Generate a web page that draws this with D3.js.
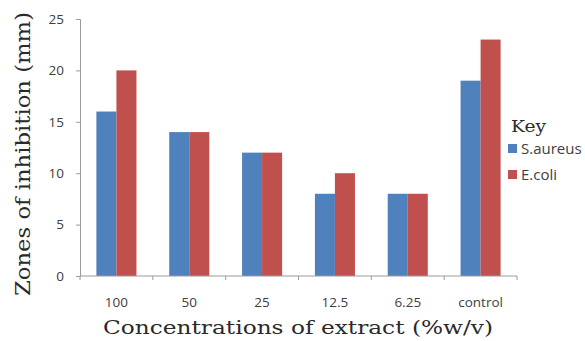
<!DOCTYPE html>
<html>
<head>
<meta charset="utf-8">
<script src="https://cdn.jsdelivr.net/npm/d3@7"></script>
<style>
  html, body { margin: 0; padding: 0; background: #fff; }
  svg { display: block; }
</style>
</head>
<body>
<svg id="chart" width="585" height="341"></svg>
<script>
// Inhibition zone diameters (mm) by extract concentration
const categories = ["100", "50", "25", "12.5", "6.25", "control"];
const seriesNames = ["S.aureus", "E.coli"];
const sAureus = [16, 14, 12, 8, 8, 19];
const eColi = [20, 14, 12, 10, 8, 23];
const yTicks = [0, 5, 10, 15, 20, 25];
const colors = ["#4f81bd", "#c0504d"];

const svg = d3.select("#chart");
const margin = { left: 80, right: 68, top: 19, bottom: 65 };
const W = 585, H = 341;
const innerW = W - margin.left - margin.right;
const innerH = H - margin.top - margin.bottom;

const g = svg.append("g").attr("transform", `translate(${margin.left},${margin.top})`);

const x = d3.scaleBand().domain(categories).range([0, innerW]).paddingInner(0).paddingOuter(0);
const groupW = x.bandwidth() * 0.55;
const x1 = d3.scaleBand().domain(seriesNames).range([-groupW / 2, groupW / 2]);
const y = d3.scaleLinear().domain([0, 25]).range([innerH, 0]);

const axisColor = "#9a9a9a";
const labelColor = "#404040";
const titleColor = "#2a2a2a";

// Bars
const rows = categories.map((c, i) => ({ cat: c, vals: [sAureus[i], eColi[i]] }));
const groups = g.selectAll("g.grp").data(rows).join("g")
  .attr("class", "grp")
  .attr("transform", d => `translate(${x(d.cat) + x.bandwidth() / 2},0)`);
groups.selectAll("rect").data(d => d.vals.map((v, k) => ({ v, k })))
  .join("rect")
  .attr("x", d => x1(seriesNames[d.k]))
  .attr("width", x1.bandwidth())
  .attr("y", d => y(d.v))
  .attr("height", d => innerH - y(d.v))
  .attr("fill", d => colors[d.k]);

// Y axis
const yAxis = g.append("g")
  .call(d3.axisLeft(y).tickValues(yTicks).tickSize(4).tickPadding(12).tickFormat(d3.format("d")));
yAxis.select(".domain").attr("stroke", axisColor);
yAxis.selectAll(".tick line").attr("stroke", axisColor);
yAxis.selectAll(".tick text")
  .attr("fill", labelColor)
  .style("font-family", "'Open Sans', 'Noto Sans', sans-serif")
  .style("font-size", "13.5px");

// X axis with ticks at category boundaries
const xAxisG = g.append("g").attr("transform", `translate(0,${innerH})`);
xAxisG.append("line").attr("x1", 0).attr("x2", innerW).attr("stroke", axisColor);
const bounds = categories.map(c => x(c)).concat([innerW]);
xAxisG.selectAll("line.b").data(bounds).join("line")
  .attr("class", "b")
  .attr("x1", d => d).attr("x2", d => d)
  .attr("y1", 0).attr("y2", 4)
  .attr("stroke", axisColor);
xAxisG.selectAll("text").data(categories).join("text")
  .attr("x", d => x(d) + x.bandwidth() / 2)
  .attr("y", 31)
  .attr("text-anchor", "middle")
  .attr("fill", labelColor)
  .style("font-family", "'Open Sans', 'Noto Sans', sans-serif")
  .style("font-size", "13.5px")
  .text(d => d);

// Axis titles
svg.append("text")
  .attr("x", 298).attr("y", 334)
  .attr("text-anchor", "middle")
  .attr("textLength", 390).attr("lengthAdjust", "spacingAndGlyphs")
  .attr("fill", titleColor)
  .style("font-family", "'DejaVu Serif', serif")
  .style("font-size", "19px")
  .text("Concentrations of extract (%w/v)");

svg.append("text")
  .attr("transform", "translate(30,154) rotate(-90)")
  .attr("text-anchor", "middle")
  .attr("textLength", 284).attr("lengthAdjust", "spacingAndGlyphs")
  .attr("fill", titleColor)
  .style("font-family", "'DejaVu Serif', serif")
  .style("font-size", "21px")
  .text("Zones of inhibition (mm)");

// Legend
const leg = svg.append("g").attr("transform", "translate(508,0)");
leg.append("text")
  .attr("x", 3).attr("y", 132)
  .attr("textLength", 35).attr("lengthAdjust", "spacingAndGlyphs")
  .attr("fill", titleColor)
  .style("font-family", "'DejaVu Serif', serif")
  .style("font-size", "16px")
  .text("Key");
seriesNames.forEach((name, k) => {
  const cy = 148.5 + k * 26;
  leg.append("rect").attr("x", 0).attr("y", cy - 4.5).attr("width", 9).attr("height", 9).attr("fill", colors[k]);
  leg.append("text")
    .attr("x", 13).attr("y", cy + 5)
    .attr("fill", labelColor)
    .style("font-family", "'Open Sans', 'Noto Sans', sans-serif")
    .style("font-size", "15px")
    .text(name);
});
</script>
</body>
</html>
